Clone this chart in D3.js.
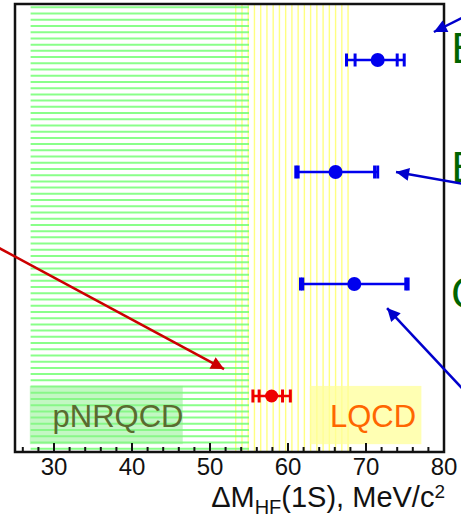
<!DOCTYPE html>
<html><head><meta charset="utf-8">
<script src="https://cdn.jsdelivr.net/npm/d3@7"></script>
<style>html,body{margin:0;padding:0;background:#fff;overflow:hidden}</style>
</head><body>
<svg id="chart" width="461" height="520"></svg>
<script>
// ---- data ----
const experiments = ["BaBar Υ(3S)", "BaBar Υ(2S)", "CLEO", "Belle"];
const centralValues = [71.5, 66.1, 68.5, 57.9];
const statLow = [68.6, 61.3, 61.9, 56.3];
const statHigh = [74.0, 71.1, 75.1, 59.3];
const totalLow = [67.5, 61.0, 61.6, 55.5];
const totalHigh = [74.9, 71.5, 75.4, 60.3];
const pointColors = ["#0000ee", "#0000ee", "#0000ee", "#ee0000"];
const yPositions = [1, 3, 5, 7];
const xDomain = [25, 80];
const majorTicks = [30, 40, 50, 60, 70, 80];
const minorTicks = d3.range(26, 81, 2);
const pnrqcdRange = [27, 55];
const lqcdRange = [53.3, 67.8];
const bandLabels = ["pNRQCD", "LQCD"];
const pnrqcdBox = [26.9, 46.5];
const lqcdBox = [62.8, 77.1];
const sideLabels = ["B", "B", "C"];
const sideLabelY = [1.05, 3.18, 5.43];
// arrows: [x1, y1, x2(tip), y2(tip)] in data units
const arrows = [
  [82.3, 0.25, 78.7, 0.5],
  [82.3, 3.21, 73.85, 3.0],
  [82.3, 6.86, 72.7, 5.43],
  [23.0, 4.36, 51.8, 6.52]
];
const arrowColors = ["#0000cc", "#0000cc", "#0000cc", "#cc0000"];

// ---- layout ----
const svg = d3.select("#chart");
const pL = 15, pR = 444, pT = 4, pB = 452;
const x = d3.scaleLinear().domain(xDomain).range([pL, pR]);
const y = d3.scaleLinear().domain([0, 8]).range([pT, pB]);

const defs = svg.append("defs");
arrowColors.forEach((c, i) => {
  defs.append("marker").attr("id", "ah" + i)
    .attr("viewBox", "0 0 10 10").attr("refX", 10).attr("refY", 5)
    .attr("markerWidth", 17).attr("markerHeight", 13).attr("markerUnits", "userSpaceOnUse")
    .attr("orient", "auto")
    .append("path").attr("d", "M0,0 L10,5 L0,10 Z").attr("fill", c);
});

// yellow LQCD hatch (vertical lines)
svg.append("g").selectAll("line").data(d3.range(lqcdRange[0], lqcdRange[1] + 0.01, 0.8)).join("line")
  .attr("x1", d => x(d)).attr("x2", d => x(d))
  .attr("y1", pT).attr("y2", pB)
  .attr("stroke", "#ffff80").attr("stroke-width", 1.4);

// green pNRQCD hatch (horizontal lines)
svg.append("g").selectAll("line").data(d3.range(0.06, 7.95, 0.111)).join("line")
  .attr("x1", x(pnrqcdRange[0])).attr("x2", x(pnrqcdRange[1]))
  .attr("y1", d => y(d)).attr("y2", d => y(d))
  .attr("stroke", "#6cff6c").attr("stroke-opacity", 0.8).attr("stroke-width", 2);

// label boxes
svg.append("rect").attr("x", x(pnrqcdBox[0])).attr("width", x(pnrqcdBox[1]) - x(pnrqcdBox[0]))
  .attr("y", y(6.82)).attr("height", y(7.86) - y(6.82))
  .attr("fill", "#88f088").attr("opacity", 0.5);
svg.append("rect").attr("x", x(lqcdBox[0])).attr("width", x(lqcdBox[1]) - x(lqcdBox[0]))
  .attr("y", y(6.82)).attr("height", y(7.86) - y(6.82))
  .attr("fill", "#ffff99").attr("opacity", 0.75);

svg.append("text").attr("x", x(38.2)).attr("y", y(7.55)).attr("text-anchor", "middle")
  .attr("font-family", "Liberation Sans, Arial, sans-serif").attr("font-size", 31)
  .attr("fill", "#5a6b2f").text(bandLabels[0]);
svg.append("text").attr("x", x(70.9)).attr("y", y(7.55)).attr("text-anchor", "middle")
  .attr("font-family", "Liberation Sans, Arial, sans-serif").attr("font-size", 31)
  .attr("fill", "#ff6600").text(bandLabels[1]);

// error bars
const g = svg.append("g");
experiments.forEach((e, i) => {
  const c = pointColors[i], yy = y(yPositions[i]);
  g.append("line").attr("x1", x(totalLow[i])).attr("x2", x(totalHigh[i]))
    .attr("y1", yy).attr("y2", yy).attr("stroke", c).attr("stroke-width", 2.7);
  [totalLow[i], statLow[i], statHigh[i], totalHigh[i]].forEach(v => {
    g.append("line").attr("x1", x(v)).attr("x2", x(v))
      .attr("y1", yy - 6.5).attr("y2", yy + 6.5).attr("stroke", c).attr("stroke-width", 3);
  });
  g.append("circle").attr("cx", x(centralValues[i])).attr("cy", yy)
    .attr("r", i === 3 ? 6.5 : 7).attr("fill", c);
});

// frame
svg.append("rect").attr("x", pL).attr("y", pT).attr("width", pR - pL).attr("height", pB - pT)
  .attr("fill", "none").attr("stroke", "#111").attr("stroke-width", 2.5);

// ticks
const axis = svg.append("g");
axis.selectAll(".minor").data(minorTicks).join("line")
  .attr("x1", d => x(d)).attr("x2", d => x(d)).attr("y1", pB).attr("y2", pB - 5)
  .attr("stroke", "#111").attr("stroke-width", 2);
axis.selectAll(".major").data(majorTicks).join("line")
  .attr("x1", d => x(d)).attr("x2", d => x(d)).attr("y1", pB).attr("y2", pB - 9)
  .attr("stroke", "#111").attr("stroke-width", 2);
axis.selectAll("text").data(majorTicks).join("text")
  .attr("x", d => x(d)).attr("y", pB + 23).attr("text-anchor", "middle")
  .attr("font-family", "Liberation Sans, Arial, sans-serif").attr("font-size", 24)
  .attr("fill", "#111").text(d => d);

// axis title
const t = svg.append("text").attr("x", pR + 1).attr("y", 507).attr("text-anchor", "end")
  .attr("font-family", "Liberation Sans, Arial, sans-serif").attr("font-size", 29).attr("fill", "#111");
t.append("tspan").text("ΔM");
t.append("tspan").attr("font-size", 20).attr("dy", 7).text("HF");
t.append("tspan").attr("dy", -7).text("(1S), MeV/c");
t.append("tspan").attr("font-size", 19).attr("dy", -9).text("2");

// side labels
svg.append("g").selectAll("text").data(sideLabels).join("text")
  .attr("x", x(80.9)).attr("y", (d, i) => y(sideLabelY[i]))
  .attr("font-family", "DejaVu Sans, sans-serif").attr("font-size", 40)
  .attr("fill", "#006400").text(d => d);

// arrows
svg.append("g").selectAll("line").data(arrows).join("line")
  .attr("x1", d => x(d[0])).attr("y1", d => y(d[1]))
  .attr("x2", d => x(d[2])).attr("y2", d => y(d[3]))
  .attr("stroke", (d, i) => arrowColors[i]).attr("stroke-width", 2.5)
  .attr("marker-end", (d, i) => `url(#ah${i})`);
</script>
</body></html>
